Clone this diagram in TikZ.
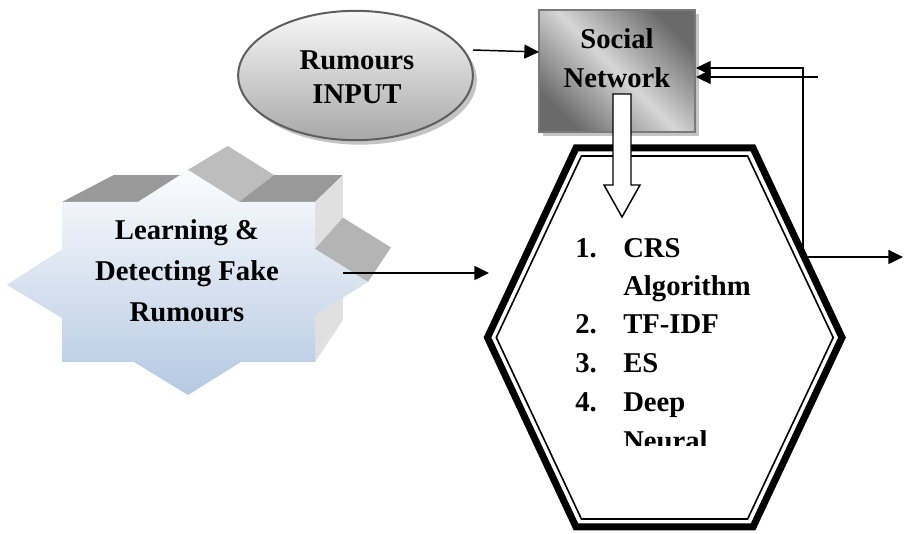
\documentclass[tikz,border=0pt]{standalone}
\usepackage{fontspec}
\setmainfont{Liberation Serif}
\usetikzlibrary{arrows.meta,shapes.geometric,calc}
\definecolor{starTop}{HTML}{FBFCFE}
\definecolor{starBot}{HTML}{B5C9E2}
\definecolor{faceA}{HTML}{999999}
\definecolor{faceB}{HTML}{BDBDBD}
\definecolor{faceD}{HTML}{B4B4B4}
\definecolor{faceR}{HTML}{E0E0E0}
\definecolor{faceE}{HTML}{B0B0B0}
\definecolor{shadowgray}{HTML}{C4C4C4}
\definecolor{ellOut}{HTML}{5E5E5E}
\definecolor{ellTop}{HTML}{F8F8F8}
\definecolor{ellBot}{HTML}{A8A8A8}
\definecolor{snDark}{HTML}{6A6A6A}
\definecolor{snLight}{HTML}{D6D6D6}
\definecolor{snBorder}{HTML}{7A7A7A}
\begin{document}
\begin{tikzpicture}[x=0.75pt,y=-0.75pt,
  lbl/.style={font=\fontsize{21.5pt}{29pt}\selectfont\bfseries, inner sep=0pt, anchor=base},
  lbll/.style={lbl, anchor=base west},
  conn/.style={line width=1.1pt, -{Triangle[length=11pt,width=10.5pt]}},
  fb/.style={line width=0.8pt, -{Triangle[length=11pt,width=10.5pt]}},
  hexouter/.style={line width=5.25pt, line join=miter, fill=white},
  hexinner/.style={line width=1.2pt, line join=miter},
  blockarrow/.style={line width=1.1pt, fill=white, line join=miter}]
\useasboundingbox (0,0) rectangle (904,534);

% ---------- 3D star ----------
\coordinate (vp) at (612,-85);
\coordinate (s1) at (188,170);
\coordinate (s2) at (239,202);
\coordinate (s3) at (315,202);
\coordinate (s4) at (315,249);
\coordinate (s5) at (368,282);
\coordinate (s6) at (315,315);
\coordinate (s7) at (315,362);
\coordinate (s8) at (241,362);
\coordinate (s9) at (188,395);
\coordinate (s10) at (134,362);
\coordinate (s11) at (62,362);
\coordinate (s12) at (62,318);
\coordinate (s13) at (7,285);
\coordinate (s14) at (62,250);
\coordinate (s15) at (62,202);
\coordinate (s16) at (138,202);
\foreach \i in {1,...,16} { \coordinate (b\i) at ($(s\i)!0.094!(vp)$); }
\fill[faceE] (s16) -- (s1) -- (b1) -- (b16) -- cycle;
\fill[faceE] (s13) -- (s14) -- (b14) -- (b13) -- cycle;
\fill[faceA] (s15) -- (s16) -- (b16) -- (b15) -- cycle;
\fill[faceB] (s1) -- (s2) -- (b2) -- (b1) -- cycle;
\fill[faceA] (s2) -- (s3) -- (b3) -- (b2) -- cycle;
\fill[faceR] (s3) -- (s4) -- (b4) -- (b3) -- cycle;
\fill[faceD] (s4) -- (s5) -- (b5) -- (b4) -- cycle;
\fill[faceR] (s6) -- (s7) -- (b7) -- (b6) -- cycle;
\shade[top color=starTop, bottom color=starBot]
  (s1) -- (s2) -- (s3) -- (s4) -- (s5) -- (s6) -- (s7) -- (s8) -- (s9)
  -- (s10) -- (s11) -- (s12) -- (s13) -- (s14) -- (s15) -- (s16) -- cycle;
\node[lbl] (lt1) at (187,240) {Learning \&};
\node[lbl] (lt2) at (187,281) {Detecting Fake};
\node[lbl] (lt3) at (187,322) {Rumours};

% ---------- Rumours INPUT ellipse ----------
\node[ellipse, minimum width=176pt, minimum height=97pt, inner sep=0pt, fill=shadowgray] (rumsh) at (359.5,80) {};
\node[ellipse, minimum width=176pt, minimum height=97pt, inner sep=0pt,
      draw=ellOut, line width=1.5pt, top color=ellTop, bottom color=ellBot] (rum) at (355.5,75.5) {};
\node[lbl] (rt1) at (357,70) {Rumours};
\node[lbl] (rt2) at (357,104) {INPUT};

% ---------- Social Network box ----------
\node[rectangle, minimum width=117pt, minimum height=91.5pt, inner sep=0pt, fill=shadowgray] (snsh) at (621,75) {};
\node[rectangle, minimum width=117pt, minimum height=91.5pt, inner sep=0pt,
      draw=snBorder, line width=1.3pt,
      top color=snDark, bottom color=snDark, middle color=snLight, shading angle=-45] (sn) at (617,71) {};
\node[lbl] (st1) at (617,49) {Social};
\node[lbl] (st2) at (617,88) {Network};

% ---------- hexagon ----------
\draw[hexouter] (576,148) -- (753,148) -- (842,337.5) -- (753,527) -- (576,527) -- (487.5,337.5) -- cycle;
\draw[hexinner] (581.4,156) -- (747.6,156) -- (833.2,337.5) -- (747.6,519) -- (581.4,519) -- (496.3,337.5) -- cycle;
\begin{scope}
\clip (555,215) rectangle (800,446);
\node[lbll] (n1) at (575,258) {1.};
\node[lbll] (i1) at (623,258) {CRS};
\node[lbll] (i1b) at (623,296) {Algorithm};
\node[lbll] (n2) at (575,334) {2.};
\node[lbll] (i2) at (623,334) {TF-IDF};
\node[lbll] (n3) at (575,373) {3.};
\node[lbll] (i3) at (623,373) {ES};
\node[lbll] (n4) at (575,412) {4.};
\node[lbll] (i4) at (623,412) {Deep};
\node[lbll] (i4b) at (623,451) {Neural};
\end{scope}

% ---------- connectors ----------
\coordinate (rumout) at (473,50);
\coordinate (snin) at (539,52);
\coordinate (starout) at (343,273);
\coordinate (hexin) at (489,273);
\coordinate (hexout) at (808,257);
\coordinate (outend) at (903,257);
\coordinate (fbbot) at (803,254);
\coordinate (fbtop) at (803,68);
\coordinate (snfb1) at (696,68);
\coordinate (snfb2) at (696,77);
\coordinate (fbfree) at (818,77);
\draw[conn] (rumout) -- (snin);
\draw[conn] (starout) -- (hexin);
\draw[conn] (hexout) -- (outend);
\draw[fb] (fbbot) -- (fbtop) -- (snfb1);
\draw[fb] (fbfree) -- (snfb2);

% ---------- block arrow ----------
\draw[blockarrow] (613,94) -- (631,94) -- (631,185) -- (640,185) -- (622,217)
  -- (604,185) -- (613,185) -- cycle;
\end{tikzpicture}
\end{document}
